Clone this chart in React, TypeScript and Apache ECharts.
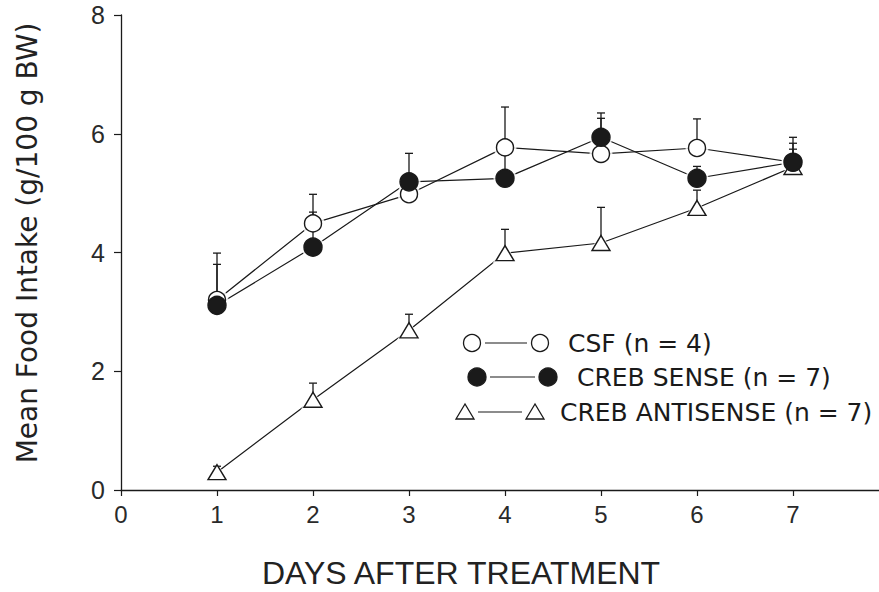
import React, { useEffect, useRef } from "react";
import * as echarts from "echarts";

const days = [1, 2, 3, 4, 5, 6, 7];
const csfMean = [3.2, 4.49, 4.98, 5.77, 5.66, 5.76, 5.52];
const csfSem = [0.79, 0.49, 0.17, 0.68, 0.6, 0.49, 0.42];
const senseMean = [3.11, 4.09, 5.19, 5.25, 5.94, 5.25, 5.52];
const senseSem = [0.69, 0.59, 0.48, 0.39, 0.41, 0.2, 0.32];
const antiMean = [0.3, 1.52, 2.69, 3.99, 4.16, 4.75, 5.44];
const antiSem = [0.1, 0.28, 0.27, 0.4, 0.6, 0.3, 0.3];
const yTicks = [0, 2, 4, 6, 8];
const xTicks = [0, 1, 2, 3, 4, 5, 6, 7];

const legendLabels = ["CSF (n = 4)", "CREB SENSE (n = 7)", "CREB ANTISENSE (n = 7)"];

const INK = "#1a1a1a";

function pts(mean: number[]) {
  return days.map((d, i) => [d, mean[i]]);
}
function errPts(mean: number[], sem: number[]) {
  return days.map((d, i) => [d, mean[i], mean[i] + sem[i]]);
}

const errRender = (params: any, api: any) => {
  const x = api.value(0);
  const lo = api.coord([x, api.value(1)]);
  const hi = api.coord([x, api.value(2)]);
  return {
    type: "group",
    children: [
      { type: "line", shape: { x1: lo[0], y1: lo[1], x2: hi[0], y2: hi[1] }, style: { stroke: INK, lineWidth: 1.3 } },
      { type: "line", shape: { x1: hi[0] - 4, y1: hi[1], x2: hi[0] + 4, y2: hi[1] }, style: { stroke: INK, lineWidth: 1.3 } },
    ],
  };
};

export default function App() {
  const ref = useRef<HTMLDivElement>(null);
  useEffect(() => {
    if (!ref.current) return;
    const chart = echarts.init(ref.current, undefined, { renderer: "svg" });
    const lineSeries = (data: number[][]) => ({
      type: "line",
      data,
      symbol: "none",
      lineStyle: { color: INK, width: 1.2 },
      z: 2,
      silent: true,
    });
    const halo = (data: number[][], symbol: string, size: any) => ({
      type: "scatter",
      data,
      symbol,
      symbolSize: size,
      itemStyle: { color: "#fff", borderWidth: 0 },
      z: 3,
      silent: true,
    });
    const errSeries = (data: number[][]) => ({
      type: "custom",
      data,
      renderItem: errRender,
      z: 4,
      silent: true,
    });
    const marker = (data: number[][], symbol: string, size: any, fill: string) => ({
      type: "scatter",
      data,
      symbol,
      symbolSize: size,
      itemStyle: { color: fill, borderColor: INK, borderWidth: 1.4, opacity: 1 },
      z: 5,
      silent: true,
    });

    const lx = [472, 477, 465];
    const lx2 = [540, 548, 535];
    const ly = [343, 377, 412];
    const tx = [568, 577, 560];
    const legendGraphics: any[] = [];
    for (let i = 0; i < 3; i++) {
      legendGraphics.push({
        type: "line",
        shape: { x1: lx[i] + 13, y1: ly[i], x2: lx2[i] - 13, y2: ly[i] },
        style: { stroke: INK, lineWidth: 1.2 },
      });
      if (i < 2) {
        for (const cx of [lx[i], lx2[i]]) {
          legendGraphics.push({
            type: "circle",
            shape: { cx, cy: ly[i], r: i === 0 ? 8.5 : 9 },
            style: { fill: i === 0 ? "#fff" : INK, stroke: INK, lineWidth: 1.3 },
          });
        }
      } else {
        for (const cx of [lx[i], lx2[i]]) {
          legendGraphics.push({
            type: "polygon",
            shape: { points: [[cx, ly[i] - 8], [cx - 9, ly[i] + 7], [cx + 9, ly[i] + 7]] },
            style: { fill: "#fff", stroke: INK, lineWidth: 1.3 },
          });
        }
      }
      legendGraphics.push({
        type: "text",
        x: tx[i],
        y: ly[i],
        style: {
          text: legendLabels[i],
          font: "25px 'DejaVu Sans'",
          fill: INK,
          verticalAlign: "middle",
          align: "left",
        },
      });
    }

    chart.setOption({
      animation: false,
      backgroundColor: "#fff",
      grid: { left: 121, width: 768, top: 15, height: 475, containLabel: false, outerBoundsMode: "none" },
      xAxis: {
        type: "value",
        min: 0,
        max: 8,
        interval: 1,
        axisLine: { show: true, lineStyle: { color: INK, width: 1.3 } },
        axisTick: { show: true, length: 6, lineStyle: { color: INK, width: 1.2 } },
        axisLabel: {
          show: true,
          margin: 12,
          fontFamily: "'Liberation Sans', Arial, sans-serif",
          fontSize: 24,
          color: "#2a2a2a",
          formatter: (v: number) => (xTicks.indexOf(v) >= 0 ? String(v) : ""),
        },
        splitLine: { show: false },
      },
      yAxis: {
        type: "value",
        min: 0,
        max: 8,
        interval: 2,
        axisLine: { show: true, lineStyle: { color: INK, width: 1.3 } },
        axisTick: { show: true, length: 7, lineStyle: { color: INK, width: 1.2 } },
        axisLabel: {
          show: true,
          margin: 16,
          fontFamily: "'Liberation Sans', Arial, sans-serif",
          fontSize: 25,
          color: "#2a2a2a",
          formatter: (v: number) => (yTicks.indexOf(v) >= 0 ? String(v) : ""),
        },
        splitLine: { show: false },
      },
      graphic: [
        {
          type: "text",
          x: 461,
          y: 573,
          style: {
            text: "DAYS AFTER TREATMENT",
            font: "32px 'Liberation Sans'",
            fill: "#222",
            align: "center",
            verticalAlign: "middle",
          },
        },
        {
          type: "text",
          x: 27,
          y: 243,
          rotation: Math.PI / 2,
          style: {
            text: "Mean Food Intake (g/100 g BW)",
            font: "28px 'DejaVu Sans'",
            fill: "#222",
            align: "center",
            verticalAlign: "middle",
          },
        },
        ...legendGraphics,
      ],
      series: [
        lineSeries(pts(csfMean)),
        lineSeries(pts(senseMean)),
        lineSeries(pts(antiMean)),
        halo(pts(csfMean), "circle", 23),
        halo(pts(senseMean), "circle", 23),
        halo(pts(antiMean), "triangle", [25, 21]),
        errSeries(errPts(csfMean, csfSem)),
        errSeries(errPts(senseMean, senseSem)),
        errSeries(errPts(antiMean, antiSem)),
        marker(pts(antiMean), "triangle", [18, 15], "#fff"),
        marker(pts(csfMean), "circle", 17, "#fff"),
        marker(pts(senseMean), "circle", 18, INK),
      ],
    });
    return () => chart.dispose();
  }, []);
  return (
    <div
      ref={ref}
      style={{ position: "fixed", left: 0, top: 0, width: 879, height: 592, background: "#fff" }}
    />
  );
}
